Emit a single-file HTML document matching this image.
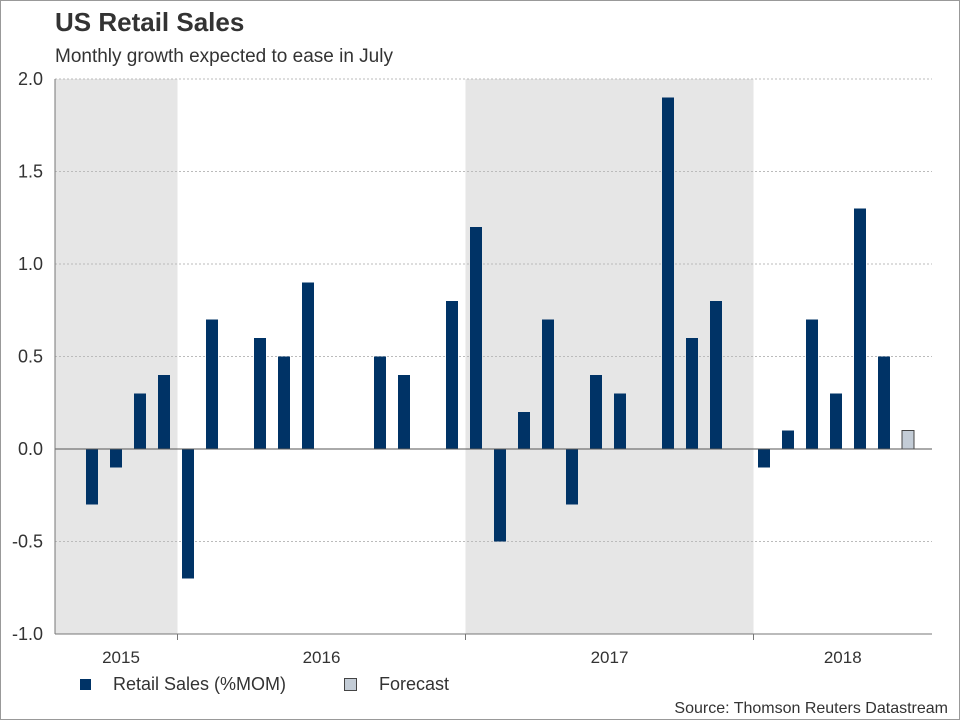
<!DOCTYPE html>
<html><head><meta charset="utf-8"><style>
body{margin:0;background:#fff;font-family:"Liberation Sans",sans-serif}
#wrap{position:relative;width:958px;height:718px;border:1px solid #999;overflow:hidden}
</style></head><body>
<div id="wrap">
<svg id="chart" width="958" height="718"></svg>
</div>
<script>
const months = ["Aug15","Sep15","Oct15","Nov15","Dec15","Jan16","Feb16","Mar16","Apr16","May16","Jun16","Jul16","Aug16","Sep16","Oct16","Nov16","Dec16","Jan17","Feb17","Mar17","Apr17","May17","Jun17","Jul17","Aug17","Sep17","Oct17","Nov17","Dec17","Jan18","Feb18","Mar18","Apr18","May18","Jun18","Jul18"];
const retailSales = [0,-0.3,-0.1,0.3,0.4,-0.7,0.7,0,0.6,0.5,0.9,0,0,0.5,0.4,0,0.8,1.2,-0.5,0.2,0.7,-0.3,0.4,0.3,0,1.9,0.6,0.8,0,-0.1,0.1,0.7,0.3,1.3,0.5,null];
const forecast = [null,null,null,null,null,null,null,null,null,null,null,null,null,null,null,null,null,null,null,null,null,null,null,null,null,null,null,null,null,null,null,null,null,null,null,0.1];
const yTicks = [2.0,1.5,1.0,0.5,0.0,-0.5,-1.0];
const years = ["2015","2016","2017","2018"];
const yearStart = [-7,5,17,29];
const yearEnd = [5,17,29,36.5];

const NS="http://www.w3.org/2000/svg";
const svg=document.getElementById('chart');
const L=54,R=931;
const y=v=>448+(0-v)*185;
const xs=k=>56.5+k*24;
function mk(t,a,txt){const e=document.createElementNS(NS,t);for(const k in a)e.setAttribute(k,a[k]);if(txt!==undefined)e.textContent=txt;svg.appendChild(e);return e;}
[0,2].forEach(i=>{
 const x0=Math.max(L,xs(yearStart[i])),x1=xs(yearEnd[i]);
 const r=mk('rect',{x:x0,y:y(2),width:x1-x0,height:y(-1)-y(2),fill:'#e6e6e6'});
 
 
});
yTicks.forEach(v=>{
 if(v!==0&&v!==-1){const g=mk('line',{x1:L,x2:R,y1:y(v),y2:y(v),stroke:'#bbb','stroke-dasharray':'2,2'});
 
 }
 const t=mk('text',{x:42,y:y(v)+6,'text-anchor':'end','font-size':18,fill:'#333'},v.toFixed(1));
 
 
});
months.forEach((m,k)=>{
 [[retailSales,'#003366','#003366'],[forecast,'#c3ccd6','#444']].forEach(([arr,f,s])=>{
  const v=arr[k]; if(v===null||v===0)return;
  const b=mk('rect',{x:xs(k)+4.5,y:Math.min(y(v),y(0)),width:12,height:Math.abs(y(v)-y(0)),fill:f,stroke:s,'stroke-width':arr===forecast?1:0});
  
  
 });
});
let z=mk('line',{x1:L,x2:R,y1:y(0),y2:y(0),stroke:'#555','stroke-width':1});


let xa=mk('line',{x1:L,x2:R,y1:y(-1),y2:y(-1),stroke:'#777','stroke-width':1});


let ya=mk('line',{x1:L,x2:L,y1:y(2),y2:y(-1),stroke:'#777','stroke-width':1});


years.forEach((yr,i)=>{
 const x0=Math.max(L,xs(yearStart[i])),x1=Math.min(R,xs(yearEnd[i]));
 if(i>0){const tk=mk('line',{x1:x0,x2:x0,y1:y(-1),y2:y(-1)+6,stroke:'#777'});
 
 }
 const cx=i===0?120:(x0+x1)/2;
 const t=mk('text',{x:cx,y:662,'text-anchor':'middle','font-size':17,fill:'#333'},yr);
 
 
});
</script>
<div style="position:absolute;left:55px;top:7px;font-size:26px;font-weight:bold;color:#333">US Retail Sales</div>
<div style="position:absolute;left:55px;top:46px;font-size:19px;color:#333">Monthly growth expected to ease in July</div>
<div style="position:absolute;left:80px;top:674px;font-size:18px;color:#333;display:flex;align-items:center">
<span style="display:inline-block;width:11px;height:11px;background:#003366;margin-right:22px"></span><span>Retail Sales (%MOM)</span>
<span style="display:inline-block;width:11px;height:11px;background:#c3ccd6;border:1px solid #444;margin-left:58px;margin-right:22px"></span><span>Forecast</span>
</div>
<div style="position:absolute;right:12px;top:700px;font-size:16px;color:#333">Source: Thomson Reuters Datastream</div>
</body></html>
